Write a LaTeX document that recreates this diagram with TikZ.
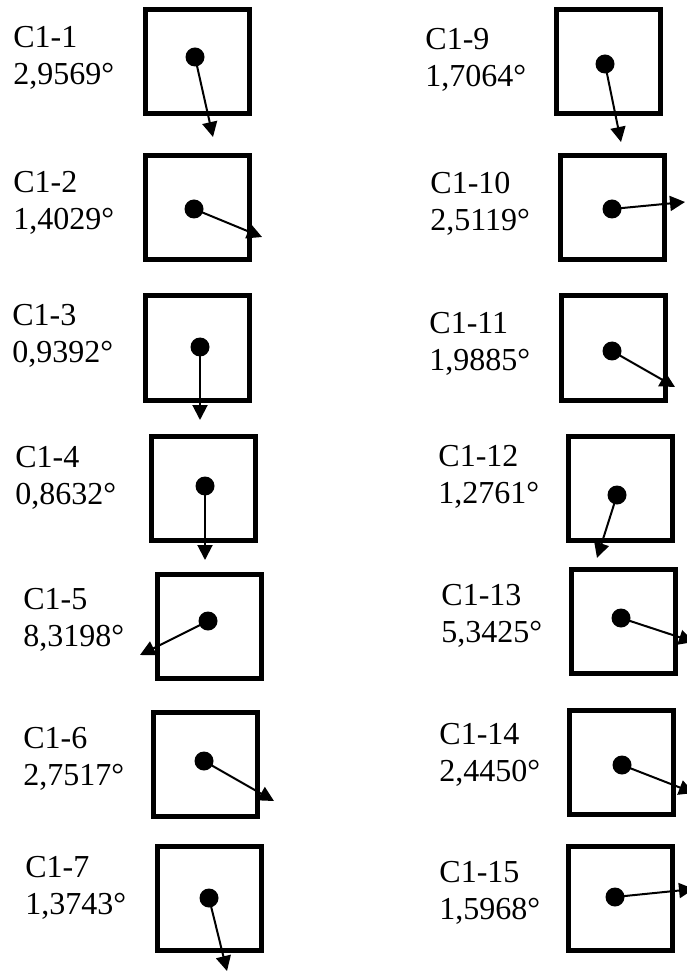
\documentclass[tikz,border=0pt]{standalone}
\usepackage{fontspec}
\setmainfont{Liberation Serif}
\usepackage{tikz}
\usetikzlibrary{arrows.meta}

\begin{document}
\begin{tikzpicture}[x=0.5pt,y=-0.5pt,
  cell/.style={draw,line width=2.5pt,minimum size=52pt,inner sep=0pt},
  pin/.style={circle,fill,inner sep=0pt,minimum size=9.5pt},
  lbl/.style={anchor=west,align=left,inner sep=0pt,font=\fontsize{16}{18.5}\selectfont},
  vec/.style={-{Triangle[length=7.5pt,width=7.5pt]},line width=1pt}]

  \useasboundingbox (0,0) rectangle (686,972);

  % left column
  \node[lbl] (lbl1) at (13,57.5) {C1-1\\2,9569°};
  \node[cell] (box1) at (197,61.5) {};
  \node[pin] (dot1) at (195,57) {};
  \coordinate (tip1) at (213,137);
  \draw[vec] (dot1.center) -- (tip1);

  \node[lbl] (lbl2) at (13,203) {C1-2\\1,4029°};
  \node[cell] (box2) at (197.5,208) {};
  \node[pin] (dot2) at (194,209) {};
  \coordinate (tip2) at (262,237);
  \draw[vec] (dot2.center) -- (tip2);

  \node[lbl] (lbl3) at (12,336) {C1-3\\0,9392°};
  \node[cell] (box3) at (197.5,348) {};
  \node[pin] (dot3) at (200,347) {};
  \coordinate (tip3) at (200,420);
  \draw[vec] (dot3.center) -- (tip3);

  \node[lbl] (lbl4) at (15,478) {C1-4\\0,8632°};
  \node[cell] (box4) at (203.5,488) {};
  \node[pin] (dot4) at (205,486) {};
  \coordinate (tip4) at (205,560);
  \draw[vec] (dot4.center) -- (tip4);

  \node[lbl] (lbl5) at (23,620) {C1-5\\8,3198°};
  \node[cell] (box5) at (209.5,626.5) {};
  \node[pin] (dot5) at (208,621) {};
  \coordinate (tip5) at (140,655);
  \draw[vec] (dot5.center) -- (tip5);

  \node[lbl] (lbl6) at (23,759) {C1-6\\2,7517°};
  \node[cell] (box6) at (205,764.5) {};
  \node[pin] (dot6) at (204,761) {};
  \coordinate (tip6) at (274,801);
  \draw[vec] (dot6.center) -- (tip6);

  \node[lbl] (lbl7) at (25,888) {C1-7\\1,3743°};
  \node[cell] (box7) at (209.5,898.5) {};
  \node[pin] (dot7) at (209,898) {};
  \coordinate (tip7) at (227,971);
  \draw[vec] (dot7.center) -- (tip7);

  % right column
  \node[lbl] (lbl9) at (425,59.5) {C1-9\\1,7064°};
  \node[cell] (box9) at (608,62) {};
  \node[pin] (dot9) at (605,64) {};
  \coordinate (tip9) at (621,142);
  \draw[vec] (dot9.center) -- (tip9);

  \node[lbl] (lbl10) at (430,203.5) {C1-10\\2,5119°};
  \node[cell] (box10) at (612.5,208) {};
  \node[pin] (dot10) at (612,209) {};
  \coordinate (tip10) at (685,202);
  \draw[vec] (dot10.center) -- (tip10);

  \node[lbl] (lbl11) at (429,344) {C1-11\\1,9885°};
  \node[cell] (box11) at (613,348) {};
  \node[pin] (dot11) at (612,351) {};
  \coordinate (tip11) at (675,387);
  \draw[vec] (dot11.center) -- (tip11);

  \node[lbl] (lbl12) at (438,477) {C1-12\\1,2761°};
  \node[cell] (box12) at (620.5,488) {};
  \node[pin] (dot12) at (617,495) {};
  \coordinate (tip12) at (597,558);
  \draw[vec] (dot12.center) -- (tip12);

  \node[lbl] (lbl13) at (441,616) {C1-13\\5,3425°};
  \node[cell] (box13) at (623,621.5) {};
  \node[pin] (dot13) at (621,618) {};
  \coordinate (tip13) at (694,642);
  \draw[vec] (dot13.center) -- (tip13);

  \node[lbl] (lbl14) at (439,754.5) {C1-14\\2,4450°};
  \node[cell] (box14) at (621.5,762) {};
  \node[pin] (dot14) at (622,765) {};
  \coordinate (tip14) at (694,793);
  \draw[vec] (dot14.center) -- (tip14);

  \node[lbl] (lbl15) at (439,893) {C1-15\\1,5968°};
  \node[cell] (box15) at (620.5,898) {};
  \node[pin] (dot15) at (615,897) {};
  \coordinate (tip15) at (694,889);
  \draw[vec] (dot15.center) -- (tip15);

\end{tikzpicture}
\end{document}
